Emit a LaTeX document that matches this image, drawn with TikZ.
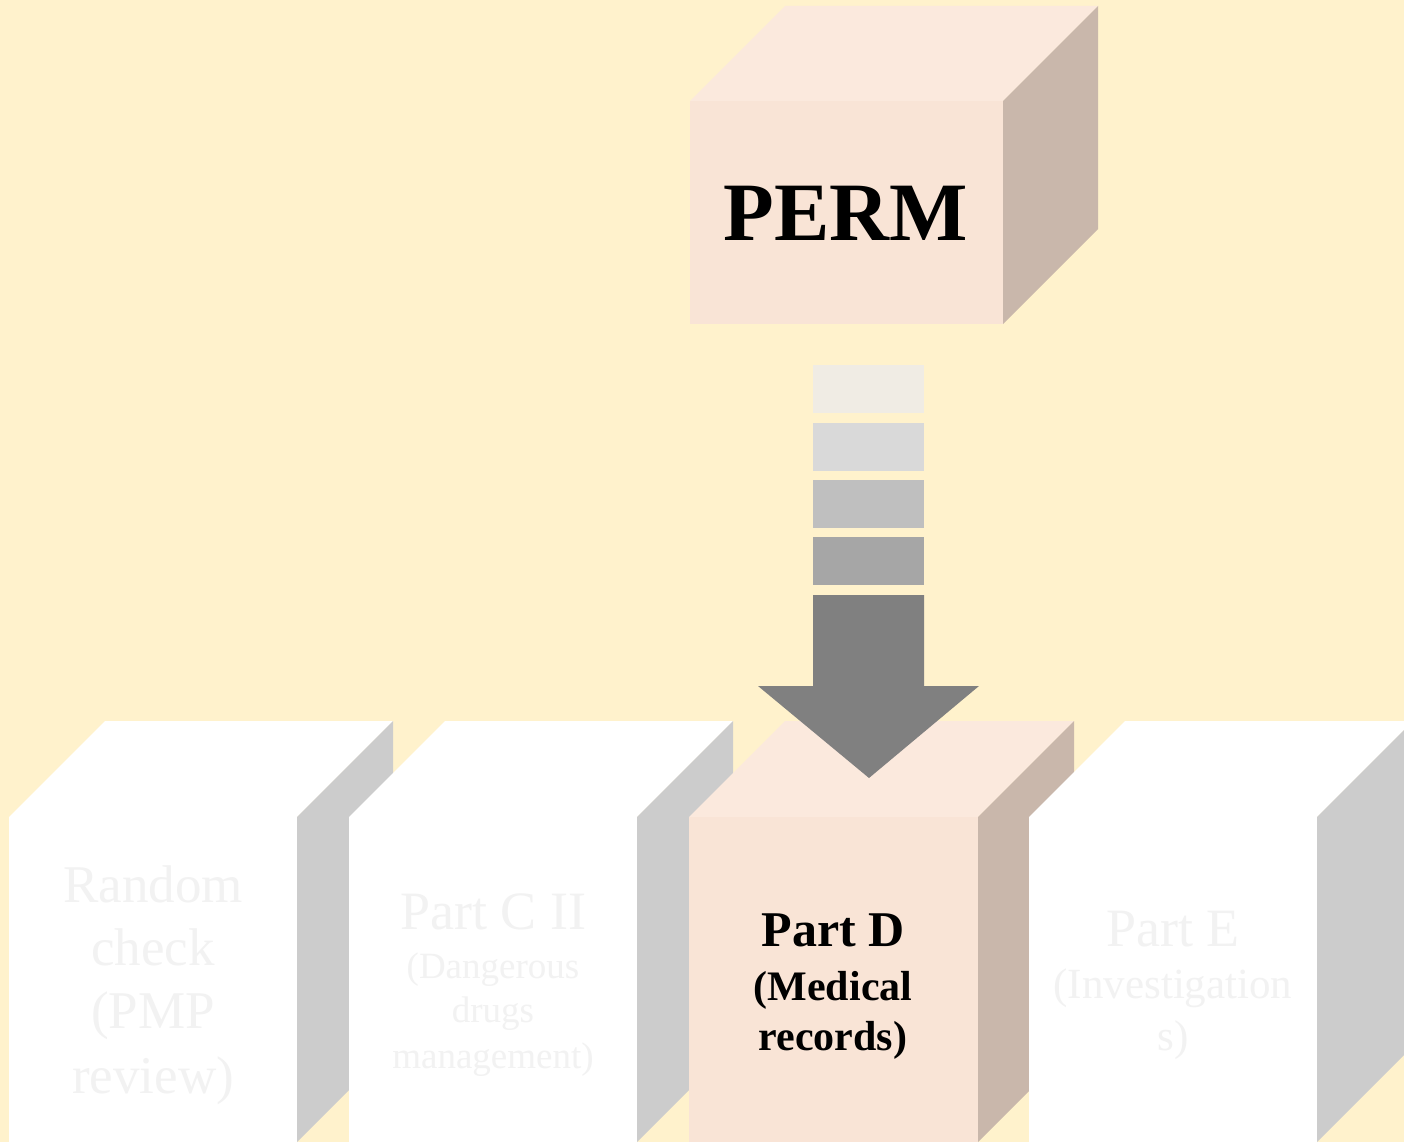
\documentclass[tikz,border=0pt]{standalone}
\usepackage{fontspec}
\setmainfont{Liberation Serif}
\definecolor{bg}{HTML}{FFF2CC}
\definecolor{pfront}{HTML}{F9E4D6}
\definecolor{ptop}{HTML}{FBE9DD}
\definecolor{pside}{HTML}{C9B7AB}
\definecolor{gside}{HTML}{CCCCCC}
\definecolor{faint}{HTML}{F2F2F2}
\definecolor{sq1}{HTML}{F0ECE4}
\definecolor{sq2}{HTML}{D9D9D9}
\definecolor{sq3}{HTML}{BFBFBF}
\definecolor{sq4}{HTML}{A6A6A6}
\definecolor{arr}{HTML}{808080}
\tikzset{
  lbl/.style={anchor=base, inner sep=0pt, align=center},
  faintlbl/.style={lbl, text=faint},
}
% cube: #1 x of front left, #2 y top of front, #3 width, #4 height, #5 depth, #6 front, #7 top, #8 side
\newcommand{\mycube}[8]{%
  \fill[#7] (#1,#2) -- ++(#5,-#5) -- ++(#3,0) -- ++(-#5,#5) -- cycle;
  \fill[#8] (#1+#3,#2) -- ++(#5,-#5) -- ++(0,#4) -- ++(-#5,#5) -- cycle;
  \fill[#6] (#1,#2) rectangle ++(#3,#4);
}
\begin{document}
\begin{tikzpicture}[x=1pt,y=-1pt]
\fill[bg] (0,0) rectangle (1404,1142);
\useasboundingbox (0,0) rectangle (1404,1142);
% PERM cube
\mycube{690}{101}{313}{223}{95}{pfront}{ptop}{pside}
\node[lbl, font=\fontsize{83}{90}\selectfont\bfseries] (perm) at (846,240) {PERM};
% bottom cubes
\mycube{9}{817}{288}{325}{96}{white}{white}{gside}
\mycube{349}{817}{288}{325}{96}{white}{white}{gside}
\mycube{689}{817}{289}{325}{96}{pfront}{ptop}{pside}
\mycube{1029}{817}{288}{325}{96}{white}{white}{gside}
% texts
\begin{scope}[font=\fontsize{53}{64}\selectfont]
\node[faintlbl] (r1) at (153,902) {Random};
\node[faintlbl] (r2) at (153,965) {check};
\node[faintlbl] (r3) at (153,1028) {(PMP};
\node[faintlbl] (r4) at (153,1093) {review)};
\end{scope}
\node[faintlbl, font=\fontsize{54}{60}\selectfont] (c1) at (493,929) {Part C II};
\begin{scope}[font=\fontsize{37}{44}\selectfont]
\node[faintlbl] (c2) at (493,978) {(Dangerous};
\node[faintlbl] (c3) at (493,1022) {drugs};
\node[faintlbl] (c4) at (493,1068) {management)};
\end{scope}
\node[lbl, font=\fontsize{50}{56}\selectfont\bfseries] (d1) at (833,946) {Part D};
\node[lbl, font=\fontsize{42}{48}\selectfont\bfseries] (d2) at (833,1000) {(Medical};
\node[lbl, font=\fontsize{42}{48}\selectfont\bfseries] (d3) at (833,1050) {records)};
\node[faintlbl, font=\fontsize{54}{60}\selectfont] (e1) at (1173,946) {Part E};
\node[faintlbl, font=\fontsize{43}{50}\selectfont] (e2) at (1173,998) {(Investigation};
\node[faintlbl, font=\fontsize{43}{50}\selectfont] (e3) at (1173,1050) {s)};
% arrow
\fill[sq1] (813,365) rectangle (924,413);
\fill[sq2] (813,423) rectangle (924,471);
\fill[sq3] (813,480) rectangle (924,528);
\fill[sq4] (813,537) rectangle (924,585);
\fill[arr] (813,595) -- (924,595) -- (924,686) -- (979,686) -- (869,778) -- (758,686) -- (813,686) -- cycle;
\end{tikzpicture}
\end{document}
